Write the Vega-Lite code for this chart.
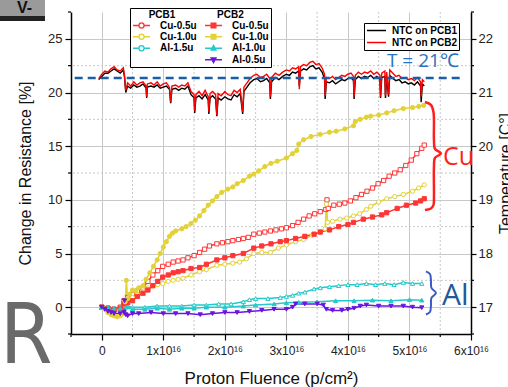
{
"$schema": "https://vega.github.io/schema/vega-lite/v6.json",
"width": 400, "height": 322,
"autosize": {"type": "none"},
"padding": {"left": 71, "top": 12, "right": 37, "bottom": 53},
"background": "white",
"config": {"view": {"stroke": null}, "font": "Liberation Sans"},
"datasets": {
"res": [
{"s":"r1","x":0,"y":0},{"s":"r1","x":0.1,"y":-0.1},{"s":"r1","x":0.2,"y":-0.2},{"s":"r1","x":0.3,"y":0.0},{"s":"r1","x":0.36,"y":0.6},{"s":"r1","x":0.42,"y":0.9},{"s":"r1","x":0.5,"y":1.2},{"s":"r1","x":0.58,"y":1.5},{"s":"r1","x":0.67,"y":1.8},{"s":"r1","x":0.75,"y":2.4},{"s":"r1","x":0.83,"y":3.0},{"s":"r1","x":0.91,"y":3.4},{"s":"r1","x":0.99,"y":3.8},{"s":"r1","x":1.08,"y":4.0},{"s":"r1","x":1.16,"y":4.2},{"s":"r1","x":1.24,"y":4.3},{"s":"r1","x":1.32,"y":4.4},{"s":"r1","x":1.4,"y":4.6},{"s":"r1","x":1.5,"y":4.8},{"s":"r1","x":1.59,"y":5.1},{"s":"r1","x":1.67,"y":5.4},{"s":"r1","x":1.75,"y":5.7},{"s":"r1","x":1.87,"y":5.9},{"s":"r1","x":1.96,"y":6.0},{"s":"r1","x":2.05,"y":6.1},{"s":"r1","x":2.13,"y":6.2},{"s":"r1","x":2.22,"y":6.3},{"s":"r1","x":2.3,"y":6.4},{"s":"r1","x":2.38,"y":6.5},{"s":"r1","x":2.47,"y":6.8},{"s":"r1","x":2.56,"y":6.9},{"s":"r1","x":2.65,"y":7.0},{"s":"r1","x":2.74,"y":7.1},{"s":"r1","x":2.83,"y":7.2},{"s":"r1","x":2.92,"y":7.3},{"s":"r1","x":3.0,"y":7.4},{"s":"r1","x":3.1,"y":7.6},{"s":"r1","x":3.19,"y":7.9},{"s":"r1","x":3.28,"y":8.2},{"s":"r1","x":3.37,"y":8.5},{"s":"r1","x":3.46,"y":8.7},{"s":"r1","x":3.55,"y":8.9},{"s":"r1","x":3.64,"y":9.1},{"s":"r1","x":3.66,"y":10.0},{"s":"r1","x":3.68,"y":9.2},{"s":"r1","x":3.77,"y":9.5},{"s":"r1","x":3.86,"y":9.6},{"s":"r1","x":3.95,"y":9.7},{"s":"r1","x":4.04,"y":9.9},{"s":"r1","x":4.13,"y":10.2},{"s":"r1","x":4.22,"y":10.5},{"s":"r1","x":4.31,"y":10.8},{"s":"r1","x":4.4,"y":11.1},{"s":"r1","x":4.49,"y":11.5},{"s":"r1","x":4.58,"y":11.8},{"s":"r1","x":4.67,"y":12.2},{"s":"r1","x":4.76,"y":12.5},{"s":"r1","x":4.85,"y":12.8},{"s":"r1","x":4.94,"y":13.2},{"s":"r1","x":5.03,"y":13.7},{"s":"r1","x":5.12,"y":14.3},{"s":"r1","x":5.2,"y":14.8},{"s":"r1","x":5.24,"y":15.1},
{"s":"y1","x":0,"y":0},{"s":"y1","x":0.1,"y":-0.2},{"s":"y1","x":0.2,"y":-0.4},{"s":"y1","x":0.3,"y":-0.3},{"s":"y1","x":0.36,"y":0.2},{"s":"y1","x":0.42,"y":0.5},{"s":"y1","x":0.5,"y":0.9},{"s":"y1","x":0.58,"y":1.2},{"s":"y1","x":0.67,"y":1.5},{"s":"y1","x":0.75,"y":1.8},{"s":"y1","x":0.83,"y":2.0},{"s":"y1","x":0.91,"y":2.1},{"s":"y1","x":0.99,"y":2.2},{"s":"y1","x":1.08,"y":2.4},{"s":"y1","x":1.16,"y":2.5},{"s":"y1","x":1.24,"y":2.6},{"s":"y1","x":1.32,"y":2.7},{"s":"y1","x":1.45,"y":3.0},{"s":"y1","x":1.59,"y":3.3},{"s":"y1","x":1.7,"y":3.5},{"s":"y1","x":1.87,"y":3.9},{"s":"y1","x":2.0,"y":4.0},{"s":"y1","x":2.13,"y":4.1},{"s":"y1","x":2.24,"y":4.2},{"s":"y1","x":2.35,"y":4.5},{"s":"y1","x":2.47,"y":5.0},{"s":"y1","x":2.6,"y":5.1},{"s":"y1","x":2.74,"y":5.1},{"s":"y1","x":2.87,"y":5.5},{"s":"y1","x":3.0,"y":5.8},{"s":"y1","x":3.15,"y":6.1},{"s":"y1","x":3.28,"y":6.3},{"s":"y1","x":3.42,"y":6.7},{"s":"y1","x":3.55,"y":7.0},{"s":"y1","x":3.63,"y":7.3},{"s":"y1","x":3.65,"y":9.6},{"s":"y1","x":3.67,"y":7.9},{"s":"y1","x":3.75,"y":8.0},{"s":"y1","x":3.87,"y":8.2},{"s":"y1","x":3.98,"y":8.3},{"s":"y1","x":4.09,"y":8.5},{"s":"y1","x":4.19,"y":8.7},{"s":"y1","x":4.3,"y":9.1},{"s":"y1","x":4.37,"y":9.4},{"s":"y1","x":4.5,"y":9.8},{"s":"y1","x":4.63,"y":10.1},{"s":"y1","x":4.76,"y":10.3},{"s":"y1","x":4.9,"y":10.5},{"s":"y1","x":5.05,"y":10.8},{"s":"y1","x":5.15,"y":11.1},{"s":"y1","x":5.24,"y":11.4},
{"s":"c1","x":0,"y":0},{"s":"c1","x":0.1,"y":0.0},{"s":"c1","x":0.2,"y":-0.1},{"s":"c1","x":0.3,"y":-0.1},{"s":"c1","x":0.4,"y":0.1},{"s":"c1","x":0.5,"y":0.0},{"s":"c1","x":0.7,"y":0.0},{"s":"c1","x":0.9,"y":0.1},{"s":"c1","x":1.1,"y":0.1},{"s":"c1","x":1.3,"y":0.1},{"s":"c1","x":1.5,"y":0.2},{"s":"c1","x":1.7,"y":0.2},{"s":"c1","x":1.9,"y":0.3},{"s":"c1","x":2.1,"y":0.3},{"s":"c1","x":2.3,"y":0.5},{"s":"c1","x":2.4,"y":0.7},{"s":"c1","x":2.5,"y":0.8},{"s":"c1","x":2.7,"y":0.8},{"s":"c1","x":2.9,"y":0.9},{"s":"c1","x":3.0,"y":1.0},{"s":"c1","x":3.1,"y":1.1},{"s":"c1","x":3.2,"y":1.3},{"s":"c1","x":3.3,"y":1.4},{"s":"c1","x":3.45,"y":1.7},{"s":"c1","x":3.55,"y":1.8},{"s":"c1","x":3.7,"y":1.9},{"s":"c1","x":3.85,"y":2.0},{"s":"c1","x":4.0,"y":2.1},{"s":"c1","x":4.15,"y":2.1},{"s":"c1","x":4.3,"y":2.2},{"s":"c1","x":4.45,"y":2.1},{"s":"c1","x":4.6,"y":2.2},{"s":"c1","x":4.75,"y":2.1},{"s":"c1","x":4.9,"y":2.3},{"s":"c1","x":5.05,"y":2.2},{"s":"c1","x":5.2,"y":2.2},
{"s":"r2","x":0,"y":0},{"s":"r2","x":0.1,"y":-0.1},{"s":"r2","x":0.2,"y":-0.2},{"s":"r2","x":0.3,"y":-0.1},{"s":"r2","x":0.36,"y":0.3},{"s":"r2","x":0.42,"y":0.4},{"s":"r2","x":0.5,"y":0.6},{"s":"r2","x":0.58,"y":1.0},{"s":"r2","x":0.67,"y":1.3},{"s":"r2","x":0.75,"y":1.6},{"s":"r2","x":0.83,"y":2.0},{"s":"r2","x":0.91,"y":2.4},{"s":"r2","x":0.99,"y":2.8},{"s":"r2","x":1.08,"y":3.0},{"s":"r2","x":1.16,"y":3.2},{"s":"r2","x":1.24,"y":3.3},{"s":"r2","x":1.32,"y":3.4},{"s":"r2","x":1.45,"y":3.6},{"s":"r2","x":1.59,"y":3.7},{"s":"r2","x":1.7,"y":4.0},{"s":"r2","x":1.87,"y":4.4},{"s":"r2","x":2.0,"y":4.6},{"s":"r2","x":2.13,"y":4.8},{"s":"r2","x":2.3,"y":5.0},{"s":"r2","x":2.47,"y":5.5},{"s":"r2","x":2.6,"y":5.7},{"s":"r2","x":2.75,"y":5.9},{"s":"r2","x":2.9,"y":6.1},{"s":"r2","x":3.0,"y":6.2},{"s":"r2","x":3.15,"y":6.4},{"s":"r2","x":3.3,"y":6.6},{"s":"r2","x":3.45,"y":6.8},{"s":"r2","x":3.55,"y":7.0},{"s":"r2","x":3.7,"y":7.2},{"s":"r2","x":3.85,"y":7.5},{"s":"r2","x":4.0,"y":7.7},{"s":"r2","x":4.09,"y":7.9},{"s":"r2","x":4.25,"y":8.2},{"s":"r2","x":4.4,"y":8.4},{"s":"r2","x":4.55,"y":8.6},{"s":"r2","x":4.63,"y":8.8},{"s":"r2","x":4.8,"y":9.2},{"s":"r2","x":4.95,"y":9.5},{"s":"r2","x":5.1,"y":9.7},{"s":"r2","x":5.18,"y":9.9},{"s":"r2","x":5.24,"y":10.1},
{"s":"y2","x":0,"y":0},{"s":"y2","x":0.05,"y":-0.2},{"s":"y2","x":0.1,"y":-0.5},{"s":"y2","x":0.15,"y":-0.7},{"s":"y2","x":0.2,"y":-0.8},{"s":"y2","x":0.25,"y":-0.9},{"s":"y2","x":0.3,"y":-0.8},{"s":"y2","x":0.35,"y":-0.6},{"s":"y2","x":0.38,"y":0.5},{"s":"y2","x":0.4,"y":2.5},{"s":"y2","x":0.42,"y":0.8},{"s":"y2","x":0.45,"y":1.2},{"s":"y2","x":0.5,"y":1.6},{"s":"y2","x":0.55,"y":1.5},{"s":"y2","x":0.6,"y":1.8},{"s":"y2","x":0.67,"y":2.0},{"s":"y2","x":0.72,"y":2.6},{"s":"y2","x":0.78,"y":3.2},{"s":"y2","x":0.84,"y":3.8},{"s":"y2","x":0.9,"y":4.4},{"s":"y2","x":0.95,"y":5.0},{"s":"y2","x":1.0,"y":5.6},{"s":"y2","x":1.05,"y":6.1},{"s":"y2","x":1.1,"y":6.6},{"s":"y2","x":1.15,"y":6.9},{"s":"y2","x":1.2,"y":7.1},{"s":"y2","x":1.3,"y":7.3},{"s":"y2","x":1.37,"y":7.5},{"s":"y2","x":1.45,"y":7.8},{"s":"y2","x":1.52,"y":8.1},{"s":"y2","x":1.59,"y":8.5},{"s":"y2","x":1.66,"y":9.0},{"s":"y2","x":1.73,"y":9.5},{"s":"y2","x":1.8,"y":9.9},{"s":"y2","x":1.87,"y":10.3},{"s":"y2","x":1.95,"y":10.7},{"s":"y2","x":2.05,"y":11.0},{"s":"y2","x":2.13,"y":11.2},{"s":"y2","x":2.2,"y":11.5},{"s":"y2","x":2.3,"y":11.8},{"s":"y2","x":2.4,"y":12.2},{"s":"y2","x":2.47,"y":12.4},{"s":"y2","x":2.55,"y":12.7},{"s":"y2","x":2.65,"y":13.1},{"s":"y2","x":2.75,"y":13.4},{"s":"y2","x":2.85,"y":13.6},{"s":"y2","x":3.0,"y":13.9},{"s":"y2","x":3.1,"y":14.3},{"s":"y2","x":3.17,"y":14.6},{"s":"y2","x":3.2,"y":15.2},{"s":"y2","x":3.28,"y":15.6},{"s":"y2","x":3.4,"y":15.9},{"s":"y2","x":3.55,"y":16.1},{"s":"y2","x":3.7,"y":16.3},{"s":"y2","x":3.81,"y":16.4},{"s":"y2","x":3.95,"y":16.6},{"s":"y2","x":4.09,"y":16.9},{"s":"y2","x":4.12,"y":17.3},{"s":"y2","x":4.2,"y":17.5},{"s":"y2","x":4.3,"y":17.7},{"s":"y2","x":4.37,"y":17.8},{"s":"y2","x":4.5,"y":17.9},{"s":"y2","x":4.63,"y":18.1},{"s":"y2","x":4.75,"y":18.3},{"s":"y2","x":4.9,"y":18.5},{"s":"y2","x":5.05,"y":18.6},{"s":"y2","x":5.15,"y":18.7},{"s":"y2","x":5.23,"y":18.8},
{"s":"c2","x":0,"y":0},{"s":"c2","x":0.1,"y":0.0},{"s":"c2","x":0.2,"y":-0.1},{"s":"c2","x":0.3,"y":-0.1},{"s":"c2","x":0.4,"y":0.0},{"s":"c2","x":0.5,"y":-0.2},{"s":"c2","x":0.7,"y":-0.2},{"s":"c2","x":0.9,"y":-0.1},{"s":"c2","x":1.1,"y":-0.2},{"s":"c2","x":1.3,"y":-0.1},{"s":"c2","x":1.5,"y":-0.1},{"s":"c2","x":1.7,"y":0.0},{"s":"c2","x":2.0,"y":0.0},{"s":"c2","x":2.3,"y":0.1},{"s":"c2","x":2.5,"y":0.2},{"s":"c2","x":2.8,"y":0.3},{"s":"c2","x":3.0,"y":0.4},{"s":"c2","x":3.2,"y":0.45},{"s":"c2","x":3.5,"y":0.5},{"s":"c2","x":3.8,"y":0.6},{"s":"c2","x":4.1,"y":0.6},{"s":"c2","x":4.4,"y":0.65},{"s":"c2","x":4.7,"y":0.6},{"s":"c2","x":5.0,"y":0.7},{"s":"c2","x":5.2,"y":0.65},
{"s":"p2","x":0,"y":0},{"s":"p2","x":0.05,"y":-0.2},{"s":"p2","x":0.1,"y":-0.4},{"s":"p2","x":0.15,"y":-0.5},{"s":"p2","x":0.2,"y":-0.6},{"s":"p2","x":0.3,"y":-0.6},{"s":"p2","x":0.36,"y":-0.5},{"s":"p2","x":0.37,"y":0.6},{"s":"p2","x":0.39,"y":-0.7},{"s":"p2","x":0.42,"y":-0.8},{"s":"p2","x":0.5,"y":-0.6},{"s":"p2","x":0.6,"y":-0.6},{"s":"p2","x":0.8,"y":-0.5},{"s":"p2","x":1.0,"y":-0.6},{"s":"p2","x":1.2,"y":-0.6},{"s":"p2","x":1.4,"y":-0.6},{"s":"p2","x":1.6,"y":-0.7},{"s":"p2","x":1.8,"y":-0.6},{"s":"p2","x":2.0,"y":-0.5},{"s":"p2","x":2.2,"y":-0.5},{"s":"p2","x":2.4,"y":-0.4},{"s":"p2","x":2.6,"y":-0.3},{"s":"p2","x":2.8,"y":-0.2},{"s":"p2","x":3.0,"y":-0.2},{"s":"p2","x":3.1,"y":0.0},{"s":"p2","x":3.15,"y":0.3},{"s":"p2","x":3.3,"y":0.3},{"s":"p2","x":3.5,"y":0.3},{"s":"p2","x":3.6,"y":0.2},{"s":"p2","x":3.65,"y":-0.2},{"s":"p2","x":3.75,"y":-0.3},{"s":"p2","x":3.9,"y":-0.3},{"s":"p2","x":4.0,"y":-0.2},{"s":"p2","x":4.1,"y":-0.1},{"s":"p2","x":4.2,"y":0.1},{"s":"p2","x":4.3,"y":0.2},{"s":"p2","x":4.5,"y":0.1},{"s":"p2","x":4.7,"y":0.1},{"s":"p2","x":4.9,"y":0.1},{"s":"p2","x":5.05,"y":0.0},{"s":"p2","x":5.2,"y":-0.05}
],
"tmp": [
{"n":"1","x":-0.05,"t":21.24},{"n":"1","x":0,"t":21.3},{"n":"1","x":0.05,"t":21.36},{"n":"1","x":0.1,"t":21.36},{"n":"1","x":0.15,"t":21.4},{"n":"1","x":0.2,"t":21.44},{"n":"1","x":0.25,"t":21.4},{"n":"1","x":0.3,"t":21.36},{"n":"1","x":0.35,"t":21.42},{"n":"1","x":0.37,"t":21.28},{"n":"1","x":0.39,"t":21.0},{"n":"1","x":0.42,"t":21.12},{"n":"1","x":0.47,"t":21.08},{"n":"1","x":0.52,"t":21.14},{"n":"1","x":0.57,"t":21.1},{"n":"1","x":0.62,"t":21.12},{"n":"1","x":0.67,"t":21.16},{"n":"1","x":0.72,"t":21.08},{"n":"1","x":0.73,"t":20.9},{"n":"1","x":0.74,"t":21.1},{"n":"1","x":0.8,"t":21.12},{"n":"1","x":0.85,"t":21.1},{"n":"1","x":0.9,"t":21.14},{"n":"1","x":0.95,"t":21.08},{"n":"1","x":1.0,"t":21.1},{"n":"1","x":1.05,"t":21.12},{"n":"1","x":1.1,"t":21.06},{"n":"1","x":1.12,"t":20.8},{"n":"1","x":1.14,"t":21.06},{"n":"1","x":1.2,"t":21.08},{"n":"1","x":1.25,"t":21.04},{"n":"1","x":1.3,"t":21.08},{"n":"1","x":1.35,"t":21.06},{"n":"1","x":1.4,"t":21.12},{"n":"1","x":1.45,"t":20.96},{"n":"1","x":1.5,"t":20.9},{"n":"1","x":1.51,"t":20.62},{"n":"1","x":1.53,"t":20.9},{"n":"1","x":1.58,"t":20.94},{"n":"1","x":1.63,"t":20.88},{"n":"1","x":1.68,"t":20.96},{"n":"1","x":1.73,"t":20.86},{"n":"1","x":1.74,"t":20.6},{"n":"1","x":1.76,"t":20.9},{"n":"1","x":1.8,"t":20.94},{"n":"1","x":1.85,"t":20.88},{"n":"1","x":1.87,"t":20.56},{"n":"1","x":1.89,"t":20.9},{"n":"1","x":1.94,"t":20.86},{"n":"1","x":2.0,"t":20.92},{"n":"1","x":2.05,"t":20.88},{"n":"1","x":2.1,"t":20.86},{"n":"1","x":2.15,"t":20.96},{"n":"1","x":2.2,"t":20.92},{"n":"1","x":2.25,"t":20.98},{"n":"1","x":2.29,"t":20.6},{"n":"1","x":2.31,"t":21.02},{"n":"1","x":2.36,"t":21.1},{"n":"1","x":2.41,"t":21.18},{"n":"1","x":2.47,"t":21.24},{"n":"1","x":2.52,"t":21.26},{"n":"1","x":2.58,"t":21.2},{"n":"1","x":2.63,"t":21.22},{"n":"1","x":2.68,"t":21.26},{"n":"1","x":2.73,"t":21.18},{"n":"1","x":2.74,"t":20.88},{"n":"1","x":2.76,"t":21.2},{"n":"1","x":2.82,"t":21.28},{"n":"1","x":2.88,"t":21.24},{"n":"1","x":2.94,"t":21.3},{"n":"1","x":3.0,"t":21.34},{"n":"1","x":3.05,"t":21.32},{"n":"1","x":3.1,"t":21.38},{"n":"1","x":3.15,"t":21.36},{"n":"1","x":3.2,"t":21.4},{"n":"1","x":3.21,"t":21.12},{"n":"1","x":3.23,"t":21.4},{"n":"1","x":3.28,"t":21.44},{"n":"1","x":3.33,"t":21.42},{"n":"1","x":3.38,"t":21.48},{"n":"1","x":3.43,"t":21.5},{"n":"1","x":3.48,"t":21.44},{"n":"1","x":3.53,"t":21.46},{"n":"1","x":3.58,"t":21.38},{"n":"1","x":3.62,"t":21.26},{"n":"1","x":3.63,"t":20.88},{"n":"1","x":3.65,"t":21.2},{"n":"1","x":3.7,"t":21.18},{"n":"1","x":3.75,"t":21.22},{"n":"1","x":3.8,"t":21.16},{"n":"1","x":3.85,"t":21.2},{"n":"1","x":3.9,"t":21.24},{"n":"1","x":3.95,"t":21.22},{"n":"1","x":4.0,"t":21.26},{"n":"1","x":4.05,"t":21.28},{"n":"1","x":4.09,"t":21.22},{"n":"1","x":4.1,"t":20.88},{"n":"1","x":4.12,"t":21.24},{"n":"1","x":4.17,"t":21.3},{"n":"1","x":4.22,"t":21.26},{"n":"1","x":4.27,"t":21.3},{"n":"1","x":4.32,"t":21.28},{"n":"1","x":4.37,"t":21.32},{"n":"1","x":4.42,"t":21.26},{"n":"1","x":4.47,"t":21.3},{"n":"1","x":4.52,"t":21.24},{"n":"1","x":4.53,"t":20.9},{"n":"1","x":4.55,"t":21.28},{"n":"1","x":4.6,"t":21.3},{"n":"1","x":4.61,"t":20.9},{"n":"1","x":4.63,"t":21.28},{"n":"1","x":4.66,"t":20.92},{"n":"1","x":4.68,"t":21.32},{"n":"1","x":4.73,"t":21.26},{"n":"1","x":4.78,"t":21.22},{"n":"1","x":4.83,"t":21.24},{"n":"1","x":4.88,"t":21.18},{"n":"1","x":4.93,"t":21.2},{"n":"1","x":4.98,"t":21.16},{"n":"1","x":5.03,"t":21.18},{"n":"1","x":5.08,"t":21.14},{"n":"1","x":5.13,"t":21.2},{"n":"1","x":5.18,"t":21.12},{"n":"1","x":5.19,"t":20.82},{"n":"1","x":5.21,"t":21.16},{"n":"1","x":5.24,"t":21.12},
{"n":"2","x":-0.05,"t":21.26},{"n":"2","x":0,"t":21.34},{"n":"2","x":0.05,"t":21.4},{"n":"2","x":0.1,"t":21.38},{"n":"2","x":0.15,"t":21.44},{"n":"2","x":0.2,"t":21.48},{"n":"2","x":0.25,"t":21.42},{"n":"2","x":0.3,"t":21.4},{"n":"2","x":0.35,"t":21.46},{"n":"2","x":0.37,"t":21.32},{"n":"2","x":0.39,"t":21.04},{"n":"2","x":0.42,"t":21.18},{"n":"2","x":0.47,"t":21.12},{"n":"2","x":0.52,"t":21.2},{"n":"2","x":0.57,"t":21.14},{"n":"2","x":0.62,"t":21.18},{"n":"2","x":0.67,"t":21.2},{"n":"2","x":0.72,"t":21.12},{"n":"2","x":0.73,"t":20.92},{"n":"2","x":0.74,"t":21.16},{"n":"2","x":0.8,"t":21.18},{"n":"2","x":0.85,"t":21.14},{"n":"2","x":0.9,"t":21.2},{"n":"2","x":0.95,"t":21.12},{"n":"2","x":1.0,"t":21.16},{"n":"2","x":1.05,"t":21.18},{"n":"2","x":1.1,"t":21.1},{"n":"2","x":1.12,"t":20.82},{"n":"2","x":1.14,"t":21.12},{"n":"2","x":1.2,"t":21.14},{"n":"2","x":1.25,"t":21.1},{"n":"2","x":1.3,"t":21.14},{"n":"2","x":1.35,"t":21.12},{"n":"2","x":1.4,"t":21.18},{"n":"2","x":1.45,"t":21.02},{"n":"2","x":1.5,"t":20.96},{"n":"2","x":1.51,"t":20.66},{"n":"2","x":1.53,"t":20.96},{"n":"2","x":1.58,"t":21.02},{"n":"2","x":1.63,"t":20.94},{"n":"2","x":1.68,"t":21.04},{"n":"2","x":1.73,"t":20.92},{"n":"2","x":1.74,"t":20.64},{"n":"2","x":1.76,"t":20.98},{"n":"2","x":1.8,"t":21.02},{"n":"2","x":1.85,"t":20.96},{"n":"2","x":1.87,"t":20.58},{"n":"2","x":1.89,"t":20.98},{"n":"2","x":1.94,"t":20.94},{"n":"2","x":2.0,"t":21.02},{"n":"2","x":2.05,"t":20.96},{"n":"2","x":2.1,"t":20.94},{"n":"2","x":2.15,"t":21.04},{"n":"2","x":2.2,"t":21.0},{"n":"2","x":2.25,"t":21.06},{"n":"2","x":2.29,"t":20.64},{"n":"2","x":2.31,"t":21.1},{"n":"2","x":2.36,"t":21.18},{"n":"2","x":2.41,"t":21.26},{"n":"2","x":2.47,"t":21.32},{"n":"2","x":2.52,"t":21.34},{"n":"2","x":2.58,"t":21.28},{"n":"2","x":2.63,"t":21.3},{"n":"2","x":2.68,"t":21.34},{"n":"2","x":2.73,"t":21.26},{"n":"2","x":2.74,"t":20.92},{"n":"2","x":2.76,"t":21.28},{"n":"2","x":2.82,"t":21.36},{"n":"2","x":2.88,"t":21.32},{"n":"2","x":2.94,"t":21.38},{"n":"2","x":3.0,"t":21.42},{"n":"2","x":3.05,"t":21.4},{"n":"2","x":3.1,"t":21.46},{"n":"2","x":3.15,"t":21.44},{"n":"2","x":3.2,"t":21.48},{"n":"2","x":3.21,"t":21.06},{"n":"2","x":3.23,"t":21.48},{"n":"2","x":3.28,"t":21.52},{"n":"2","x":3.33,"t":21.5},{"n":"2","x":3.38,"t":21.56},{"n":"2","x":3.43,"t":21.58},{"n":"2","x":3.48,"t":21.52},{"n":"2","x":3.53,"t":21.54},{"n":"2","x":3.58,"t":21.46},{"n":"2","x":3.62,"t":21.34},{"n":"2","x":3.63,"t":20.94},{"n":"2","x":3.65,"t":21.28},{"n":"2","x":3.7,"t":21.26},{"n":"2","x":3.75,"t":21.3},{"n":"2","x":3.8,"t":21.24},{"n":"2","x":3.85,"t":21.28},{"n":"2","x":3.9,"t":21.32},{"n":"2","x":3.95,"t":21.3},{"n":"2","x":4.0,"t":21.34},{"n":"2","x":4.05,"t":21.36},{"n":"2","x":4.09,"t":21.3},{"n":"2","x":4.1,"t":20.92},{"n":"2","x":4.12,"t":21.32},{"n":"2","x":4.17,"t":21.38},{"n":"2","x":4.22,"t":21.34},{"n":"2","x":4.27,"t":21.38},{"n":"2","x":4.32,"t":21.36},{"n":"2","x":4.37,"t":21.4},{"n":"2","x":4.42,"t":21.34},{"n":"2","x":4.47,"t":21.38},{"n":"2","x":4.52,"t":21.32},{"n":"2","x":4.53,"t":20.92},{"n":"2","x":4.55,"t":21.36},{"n":"2","x":4.6,"t":21.4},{"n":"2","x":4.61,"t":20.94},{"n":"2","x":4.63,"t":21.38},{"n":"2","x":4.66,"t":20.96},{"n":"2","x":4.68,"t":21.42},{"n":"2","x":4.73,"t":21.36},{"n":"2","x":4.78,"t":21.3},{"n":"2","x":4.83,"t":21.32},{"n":"2","x":4.88,"t":21.26},{"n":"2","x":4.93,"t":21.28},{"n":"2","x":4.98,"t":21.24},{"n":"2","x":5.03,"t":21.26},{"n":"2","x":5.08,"t":21.22},{"n":"2","x":5.13,"t":21.28},{"n":"2","x":5.18,"t":21.2},{"n":"2","x":5.19,"t":20.92},{"n":"2","x":5.21,"t":21.24},{"n":"2","x":5.24,"t":21.2}
],
"br": [
{"b":"cu","i":0,"x":5.252,"y":19.12},{"b":"cu","i":1,"x":5.349,"y":18.84},{"b":"cu","i":2,"x":5.39,"y":18.19},{"b":"cu","i":3,"x":5.398,"y":15.58},{"b":"cu","i":4,"x":5.414,"y":14.74},{"b":"cu","i":5,"x":5.512,"y":14.32},{"b":"cu","i":6,"x":5.414,"y":13.9},{"b":"cu","i":7,"x":5.398,"y":13.06},{"b":"cu","i":8,"x":5.398,"y":10.17},{"b":"cu","i":9,"x":5.39,"y":9.51},{"b":"cu","i":10,"x":5.349,"y":9.2},{"b":"cu","i":11,"x":5.252,"y":9.06},
{"b":"al","i":0,"x":5.268,"y":3.33},{"b":"al","i":1,"x":5.333,"y":3.09},{"b":"al","i":2,"x":5.349,"y":2.53},{"b":"al","i":3,"x":5.357,"y":1.79},{"b":"al","i":4,"x":5.43,"y":1.32},{"b":"al","i":5,"x":5.357,"y":0.86},{"b":"al","i":6,"x":5.349,"y":0.11},{"b":"al","i":7,"x":5.333,"y":-0.45},{"b":"al","i":8,"x":5.268,"y":-0.68}
],
"minx": [{"v":0.5},{"v":1.5},{"v":2.5},{"v":3.5},{"v":4.5},{"v":5.5}],
"miny": [{"v":2.5},{"v":7.5},{"v":12.5},{"v":17.5},{"v":22.5}],
"tkx": [{"v":-0.5,"a":-2.5,"b":-2.78},{"v":0.5,"a":-2.5,"b":-2.78},{"v":1.5,"a":-2.5,"b":-2.78},{"v":2.5,"a":-2.5,"b":-2.78},{"v":3.5,"a":-2.5,"b":-2.78},{"v":4.5,"a":-2.5,"b":-2.78},{"v":5.5,"a":-2.5,"b":-2.78}],
"tky": [{"v":-2.5,"a":-0.5,"b":-0.549},{"v":2.5,"a":-0.5,"b":-0.549},{"v":7.5,"a":-0.5,"b":-0.549},{"v":12.5,"a":-0.5,"b":-0.549},{"v":17.5,"a":-0.5,"b":-0.549},{"v":22.5,"a":-0.5,"b":-0.549},{"v":27.5,"a":-0.5,"b":-0.549},
 {"v":-2.5,"a":6,"b":6.049},{"v":2.5,"a":6,"b":6.049},{"v":7.5,"a":6,"b":6.049},{"v":12.5,"a":6,"b":6.049},{"v":17.5,"a":6,"b":6.049},{"v":22.5,"a":6,"b":6.049},{"v":27.5,"a":6,"b":6.049}]
},
"layer": [
{
"resolve": {"scale": {"shape": "independent", "fill": "independent", "stroke": "independent"}},
"layer": [
{
"data": {"name": "minx"},
"mark": {"type": "rule", "color": "#c8c8c8", "strokeWidth": 1, "strokeDash": [2, 2]},
"encoding": {"x": {"field": "v", "type": "quantitative", "scale": {"domain": [-0.5, 6], "nice": false, "zero": false},
 "axis": {"values": [0,1,2,3,4,5,6],
  "labelExpr": "datum.value === 0 ? '0' : datum.value + 'x10\u00b9\u2076'",
  "tickSize": 6, "grid": true, "gridColor": "#c8c8c8",
  "title": "Proton Fluence (p/cm\u00b2)", "titleFontSize": 17, "titleFontWeight": "normal", "titlePadding": 14, "titleColor": "#111",
  "labelFontSize": 12, "labelPadding": 5, "labelColor": "#222", "labelOverlap": false, "labelFlush": false,
  "domainColor": "#000", "domainWidth": 1.5, "tickColor": "#000", "tickWidth": 1.2}}}
},
{
"data": {"name": "miny"},
"mark": {"type": "rule", "color": "#c8c8c8", "strokeWidth": 1, "strokeDash": [2, 2]},
"encoding": {"y": {"field": "v", "type": "quantitative", "scale": {"domain": [-2.5, 27.5], "nice": false, "zero": false},
 "axis": {"values": [0,5,10,15,20,25],
  "tickSize": 6, "grid": true, "gridColor": "#c8c8c8",
  "title": "Change in Resistance [%]", "titleFontSize": 16, "titleFontWeight": "normal", "titlePadding": 14, "titleColor": "#111",
  "labelFontSize": 13, "labelPadding": 3, "labelColor": "#222", "labelOverlap": false,
  "domainColor": "#000", "domainWidth": 1.5, "tickColor": "#000", "tickWidth": 1.2}}}
},
{
"data": {"name": "tkx"},
"mark": {"type": "rule", "color": "#000", "strokeWidth": 1.2},
"encoding": {"x": {"field": "v", "type": "quantitative"}, "y": {"field": "a", "type": "quantitative"}, "y2": {"field": "b"}}
},
{
"data": {"name": "tky"},
"mark": {"type": "rule", "color": "#000", "strokeWidth": 1.2},
"encoding": {"y": {"field": "v", "type": "quantitative"}, "x": {"field": "a", "type": "quantitative"}, "x2": {"field": "b"}}
},
{
"data": {"name": "res"},
"mark": {"type": "line", "strokeWidth": 1.5},
"encoding": {
"x": {"field": "x", "type": "quantitative"},
"y": {"field": "y", "type": "quantitative"},
"color": {"field": "s", "type": "nominal", "scale": {"domain": ["c2","c1","p2","r2","y1","r1","y2"], "range": ["#25c9c9","#25c9c9","#6a16e0","#ff3535","#e2d236","#ff3535","#e2d236"]}, "legend": null},
"strokeWidth": {"condition": {"test": "indexOf(['r2','y2','c2','p2'], datum.s) >= 0", "value": 2.2}, "value": 1.4}
}
},
{
"data": {"name": "res"},
"mark": {"type": "point", "size": 18, "strokeWidth": 1, "opacity": 1},
"encoding": {
"x": {"field": "x", "type": "quantitative"},
"y": {"field": "y", "type": "quantitative"},
"shape": {"field": "s", "type": "nominal", "scale": {"domain": ["r1","y1","c1","r2","y2","c2","p2"], "range": ["square","circle","triangle-up","square","circle","triangle-up","triangle-down"]}, "legend": null},
"fill": {"field": "s", "type": "nominal", "scale": {"domain": ["r1","y1","c1","r2","y2","c2","p2"], "range": ["#ffffff","#ffffff","#ffffff","#ff3535","#e2d236","#25c9c9","#6a16e0"]}, "legend": null},
"stroke": {"field": "s", "type": "nominal", "scale": {"domain": ["r1","y1","c1","r2","y2","c2","p2"], "range": ["#ff3535","#e2d236","#25c9c9","#ff3535","#e2d236","#25c9c9","#6a16e0"]}, "legend": null}
}
},
{
"data": {"values": [{"k": "a Cu-0.5u"}]},
"mark": {"type": "point", "opacity": 0},
"encoding": {
"shape": {"field": "k", "type": "nominal",
 "scale": {"domain": ["a Cu-0.5u","c Cu-1.0u","e Al-1.5u","g ","b Cu-0.5u","d Cu-1.0u","f Al-1.0u","h Al-0.5u"],
  "range": ["M-1,0H-0.3M0.3,0H1M-0.3,0A0.3,0.3,0,1,1,0.3,0A0.3,0.3,0,1,1,-0.3,0Z","M-1,0H-0.3M0.3,0H1M-0.3,0A0.3,0.3,0,1,1,0.3,0A0.3,0.3,0,1,1,-0.3,0Z","M-1,0H-0.3M0.3,0H1M-0.3,0A0.3,0.3,0,1,1,0.3,0A0.3,0.3,0,1,1,-0.3,0Z","M0,0","M-1,0H1M-0.28,-0.28H0.28V0.28H-0.28Z","M-1,0H1M-0.28,-0.28H0.28V0.28H-0.28Z","M-1,0H1M0,-0.35L0.3,0.22H-0.3Z","M-1,0H1M0,0.35L0.3,-0.22H-0.3Z"]},
 "legend": {"orient": "none", "legendX": 59, "legendY": -4, "title": "\u200b\u00a0\u00a0\u00a0\u00a0\u00a0\u00a0PCB1\u00a0\u00a0\u00a0\u00a0\u00a0\u00a0\u00a0\u00a0\u00a0\u00a0\u00a0\u00a0\u00a0\u00a0\u00a0PCB2", "titleFontSize": 10, "titleFontWeight": "bold", "titleColor": "#000", "titlePadding": 0, "columns": 2, "columnPadding": 7, "rowPadding": 0.5, "clipHeight": 10.5, "symbolSize": 289, "symbolStrokeWidth": 1.3, "symbolOpacity": 1, "labelOffset": 9, "labelFontSize": 10, "labelFontWeight": "bold", "labelColor": "#000", "labelExpr": "slice(datum.label, 2)", "strokeColor": "#000", "fillColor": "#fff", "padding": 2, "cornerRadius": 0}},
"fill": {"field": "k", "type": "nominal",
 "scale": {"domain": ["a Cu-0.5u","c Cu-1.0u","e Al-1.5u","g ","b Cu-0.5u","d Cu-1.0u","f Al-1.0u","h Al-0.5u"],
  "range": ["#ffffff","#ffffff","#ffffff","transparent","#ff3535","#e2d236","#25c9c9","#6a16e0"]},
 "legend": {"orient": "none", "legendX": 59, "legendY": -4, "title": "\u200b\u00a0\u00a0\u00a0\u00a0\u00a0\u00a0PCB1\u00a0\u00a0\u00a0\u00a0\u00a0\u00a0\u00a0\u00a0\u00a0\u00a0\u00a0\u00a0\u00a0\u00a0\u00a0PCB2", "titleFontSize": 10, "titleFontWeight": "bold", "titleColor": "#000", "titlePadding": 0, "columns": 2, "columnPadding": 7, "rowPadding": 0.5, "clipHeight": 10.5, "symbolSize": 289, "symbolStrokeWidth": 1.3, "symbolOpacity": 1, "labelOffset": 9, "labelFontSize": 10, "labelFontWeight": "bold", "labelColor": "#000", "labelExpr": "slice(datum.label, 2)", "strokeColor": "#000", "fillColor": "#fff", "padding": 2, "cornerRadius": 0}},
"stroke": {"field": "k", "type": "nominal",
 "scale": {"domain": ["a Cu-0.5u","c Cu-1.0u","e Al-1.5u","g ","b Cu-0.5u","d Cu-1.0u","f Al-1.0u","h Al-0.5u"],
  "range": ["#ff3535","#e2d236","#25c9c9","transparent","#ff3535","#e2d236","#25c9c9","#6a16e0"]},
 "legend": {"orient": "none", "legendX": 59, "legendY": -4, "title": "\u200b\u00a0\u00a0\u00a0\u00a0\u00a0\u00a0PCB1\u00a0\u00a0\u00a0\u00a0\u00a0\u00a0\u00a0\u00a0\u00a0\u00a0\u00a0\u00a0\u00a0\u00a0\u00a0PCB2", "titleFontSize": 10, "titleFontWeight": "bold", "titleColor": "#000", "titlePadding": 0, "columns": 2, "columnPadding": 7, "rowPadding": 0.5, "clipHeight": 10.5, "symbolSize": 289, "symbolStrokeWidth": 1.3, "symbolOpacity": 1, "labelOffset": 9, "labelFontSize": 10, "labelFontWeight": "bold", "labelColor": "#000", "labelExpr": "slice(datum.label, 2)", "strokeColor": "#000", "fillColor": "#fff", "padding": 2, "cornerRadius": 0}}
}
},
{
"data": {"name": "br"},
"mark": {"type": "line", "interpolate": "catmull-rom"},
"encoding": {
"x": {"field": "x", "type": "quantitative"},
"y": {"field": "y", "type": "quantitative"},
"order": {"field": "i", "type": "quantitative"},
"detail": {"field": "b", "type": "nominal"},
"stroke": {"condition": {"test": "datum.b === 'cu'", "value": "#ff1f1f"}, "value": "#3b5cc6"},
"strokeWidth": {"condition": {"test": "datum.b === 'cu'", "value": 2.5}, "value": 2}
}
},
{
"data": {"values": [{"label": "Cu", "x": 5.544, "y": 13.25}]},
"mark": {"type": "text", "align": "left", "baseline": "alphabetic", "fontSize": 25, "font": "Open Sans", "color": "#ff1f1f"},
"encoding": {"x": {"field": "x", "type": "quantitative"}, "y": {"field": "y", "type": "quantitative"}, "text": {"field": "label"}}
},
{
"data": {"values": [{"label": "Al", "x": 5.528, "y": 0.2}]},
"mark": {"type": "text", "align": "left", "baseline": "alphabetic", "fontSize": 30, "font": "Open Sans", "color": "#1f5a9e"},
"encoding": {"x": {"field": "x", "type": "quantitative"}, "y": {"field": "y", "type": "quantitative"}, "text": {"field": "label"}}
},
{
"data": {"values": [{"label": "R", "x": -1.654, "y": -5.2}]},
"mark": {"type": "text", "align": "left", "baseline": "alphabetic", "fontSize": 84, "font": "DejaVu Sans Condensed", "fontWeight": 300, "color": "#6a6a6a"},
"encoding": {"x": {"field": "x", "type": "quantitative"}, "y": {"field": "y", "type": "quantitative"}, "text": {"field": "label"}}
},
{
"data": {"values": [{"x": -1.654, "x2": -0.923, "y": 28.62, "y2": 27.13, "c": "a"}, {"x": -1.654, "x2": -0.923, "y": 27.13, "y2": 26.66, "c": "b"}]},
"mark": {"type": "rect"},
"encoding": {"x": {"field": "x", "type": "quantitative"}, "x2": {"field": "x2"}, "y": {"field": "y", "type": "quantitative"}, "y2": {"field": "y2"},
 "fill": {"condition": {"test": "datum.c === 'a'", "value": "#9a9a9a"}, "value": "#222222"}}
},
{
"data": {"values": [{"label": "V-", "x": -1.378, "y": 27.41}]},
"mark": {"type": "text", "align": "left", "baseline": "alphabetic", "fontSize": 16, "fontWeight": "bold", "color": "#111"},
"encoding": {"x": {"field": "x", "type": "quantitative"}, "y": {"field": "y", "type": "quantitative"}, "text": {"field": "label"}}
}
]
},
{
"layer": [
{
"data": {"name": "tmp"},
"mark": {"type": "line", "strokeWidth": 1.4},
"encoding": {
"x": {"field": "x", "type": "quantitative"},
"y": {"field": "t", "type": "quantitative", "scale": {"domain": [16.5, 22.5], "nice": false, "zero": false},
 "axis": {"orient": "right", "values": [17,18,19,20,21,22], "format": "d",
  "tickSize": 5, "grid": false,
  "title": "Temperature [C\u00b0]", "titleAngle": 270, "titleFontSize": 16, "titleFontWeight": "normal", "titlePadding": 21, "titleColor": "#111",
  "labelFontSize": 13, "labelPadding": 2, "labelColor": "#222", "labelOverlap": false,
  "domainColor": "#000", "domainWidth": 1.5, "tickColor": "#000", "tickWidth": 1.2}},
"color": {"field": "n", "type": "nominal", "scale": {"domain": ["1", "2"], "range": ["#000000", "#ff0000"]},
 "legend": {"orient": "none", "legendX": 293, "legendY": 11, "title": null, "symbolType": "stroke", "symbolSize": 361, "symbolStrokeWidth": 1.5, "clipHeight": 11, "rowPadding": 1, "labelOffset": 5, "labelFontSize": 10, "labelFontWeight": "bold", "labelColor": "#000", "labelExpr": "'NTC on PCB' + datum.label", "strokeColor": "#000", "fillColor": "#fff", "padding": 2, "cornerRadius": 0}}
}
},
{
"data": {"values": [{"x1": -0.44, "x2": 5.88, "t": 21.27}]},
"mark": {"type": "rule", "strokeDash": [8, 5], "strokeWidth": 2.5, "color": "#1b5ea6"},
"encoding": {"x": {"field": "x1", "type": "quantitative"}, "x2": {"field": "x2"}, "y": {"field": "t", "type": "quantitative"}}
},
{
"data": {"values": [{"label": "T = 21\u2103", "x": 4.634, "t": 21.476}]},
"mark": {"type": "text", "align": "left", "baseline": "alphabetic", "fontSize": 19, "font": "Open Sans", "color": "#2a72c0"},
"encoding": {"x": {"field": "x", "type": "quantitative"}, "y": {"field": "t", "type": "quantitative"}, "text": {"field": "label"}}
}
]
}
],
"resolve": {"scale": {"y": "independent", "color": "independent"}}
}
